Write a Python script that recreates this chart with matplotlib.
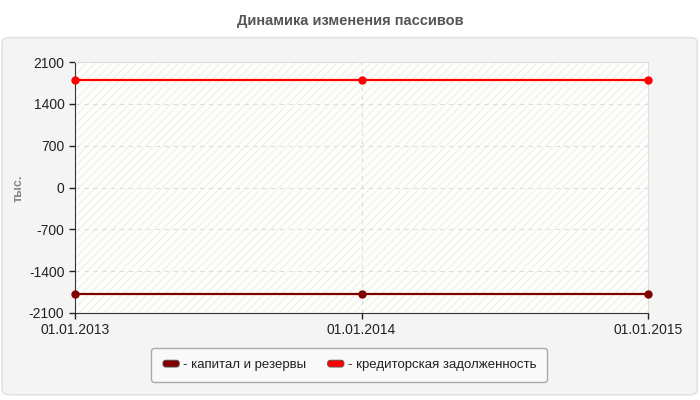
import numpy as np
import matplotlib.pyplot as plt
from matplotlib.patches import FancyBboxPatch, Rectangle
from matplotlib.legend_handler import HandlerPatch

plt.rcParams['font.family'] = ['Liberation Sans', 'DejaVu Sans']
plt.rcParams['axes.unicode_minus'] = False

dates = ['01.01.2013', '01.01.2014', '01.01.2015']
capital = [-1790, -1790, -1790]
creditors = [1800, 1800, 1800]
y_ticks = [-2100, -1400, -700, 0, 700, 1400, 2100]
series_names = ['- капитал и резервы', '- кредиторская задолженность']
colors = ['#800000', '#ff0000']

fig = plt.figure(figsize=(7, 4), dpi=100)
fig.patch.set_facecolor('white')

# outer grey panel
panel = FancyBboxPatch((0.003, 0.013), 0.993, 0.893,
                       boxstyle='round,pad=0,rounding_size=0.012',
                       transform=fig.transFigure, facecolor='#f4f4f4',
                       edgecolor='#e2e2e2', linewidth=1.2, zorder=-5)
fig.patches.append(panel)

fig.text(0.5, 0.948, 'Динамика изменения пассивов', ha='center', va='center',
         fontsize=10.5, fontweight='bold', color='#555555')

ax = fig.add_axes([0.107, 0.2175, 0.819, 0.6275])
ax.set_facecolor('#fefefa')
ax.add_patch(Rectangle((0, 0), 1, 1, transform=ax.transAxes, facecolor='none',
                       edgecolor='#f1f1ef', hatch='////', linewidth=0, zorder=0))

x = np.arange(len(dates))
for vals, col in zip([capital, creditors], colors):
    ax.plot(x, vals, '-o', color=col, linewidth=1.6, markersize=5,
            clip_on=False, zorder=3)

ax.set_xlim(0, len(dates) - 1)
ax.set_ylim(-2100, 2100)
ax.set_xticks(x)
ax.set_xticklabels(dates)
ax.set_yticks(y_ticks)
ax.tick_params(labelsize=10, colors='#222222', length=4, width=1)

for y in y_ticks[1:-1]:
    ax.axhline(y, color='#dddddd', linestyle=(0, (4, 4)), linewidth=0.8, zorder=1)
ax.axvline(1, color='#dddddd', linestyle=(0, (4, 4)), linewidth=0.8, zorder=1)

for s in ['top', 'right']:
    ax.spines[s].set_color('#dddddd')
for s in ['left', 'bottom']:
    ax.spines[s].set_color('#333333')

fig.text(0.026, 0.53, 'тыс.', rotation=90, ha='center', va='center',
         fontsize=9, fontweight='bold', color='#888888')


class RoundHandler(HandlerPatch):
    def create_artists(self, legend, orig_handle, xdescent, ydescent,
                       width, height, fontsize, trans):
        p = FancyBboxPatch((-xdescent + 1, -ydescent + 1), width - 2, height - 2,
                           boxstyle='round,pad=0,rounding_size=2',
                           facecolor=orig_handle.get_facecolor(),
                           edgecolor='#555555', linewidth=0.6, transform=trans)
        return [p]


handles = [Rectangle((0, 0), 1, 1, facecolor=c) for c in colors]
leg = fig.legend(handles, series_names, loc='center', bbox_to_anchor=(0.4986, 0.0875),
                 ncol=2, fontsize=9.5, frameon=True, fancybox=True,
                 handler_map={Rectangle: RoundHandler()},
                 handlelength=1.45, handleheight=0.75, handletextpad=0.2,
                 columnspacing=1.5, borderpad=0.8)
leg.get_frame().set_edgecolor('#aaaaaa')
leg.get_frame().set_facecolor('#f9f9f9')
leg.get_frame().set_alpha(1)
for t in leg.get_texts():
    t.set_color('#222222')

fig.savefig('out.png', dpi=100)
